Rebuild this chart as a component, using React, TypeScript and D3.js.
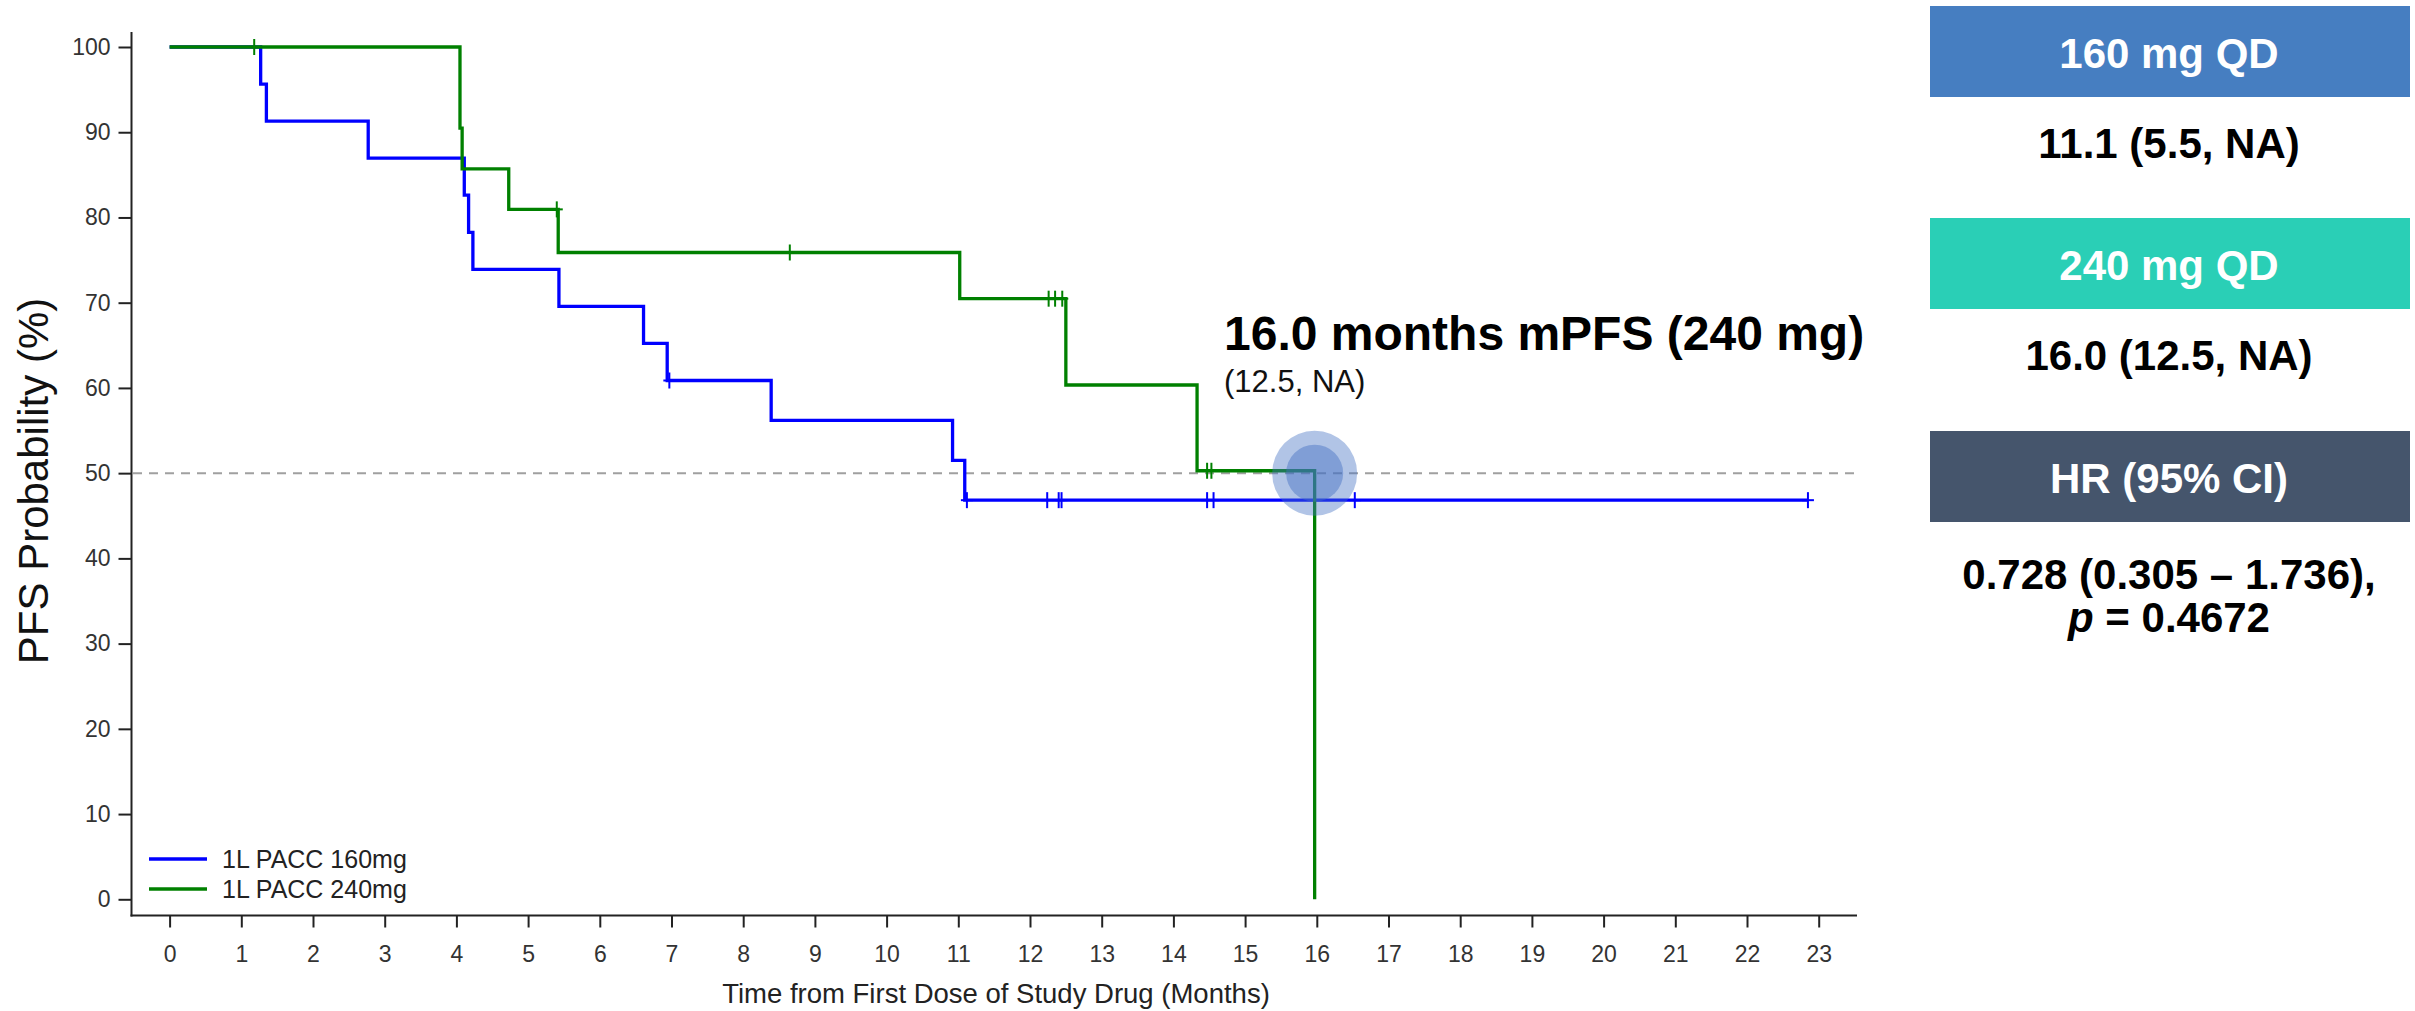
import React, { useRef, useEffect } from "react";
import * as d3 from "d3";

const monthTicks = d3.range(0, 24);
const pctTicks = d3.range(0, 101, 10);

// 1L PACC 160mg: step start times (months) and PFS (%)
const blueTimes = [0, 1.27, 1.35, 2.77, 4.11, 4.17, 4.23, 5.43, 6.61, 6.94, 8.39, 10.92, 11.09, 22.85];
const bluePfs = [100, 95.65, 91.3, 86.96, 82.61, 78.26, 73.91, 69.57, 65.22, 60.87, 56.19, 51.51, 46.83, 46.83];
const blueCensored = [6.97, 11.12, 12.24, 12.4, 12.44, 14.47, 14.56, 16.53, 22.85];

// 1L PACC 240mg
const greenTimes = [0, 4.05, 4.08, 4.73, 5.42, 11.02, 12.5, 14.33, 15.97];
const greenPfs = [100, 90.48, 85.71, 80.95, 75.89, 70.47, 60.34, 50.28, 0];
const greenCensored = [1.18, 5.4, 8.65, 12.26, 12.35, 12.45, 14.47, 14.53];

const medianMonths = 15.97;
const medianPfs = 50;

const legendLabels = ["1L PACC 160mg", "1L PACC 240mg"];
const panelHeaders = ["160 mg QD", "240 mg QD", "HR (95% CI)"];
const panelValues = ["11.1 (5.5, NA)", "16.0 (12.5, NA)"];
const hrText = "0.728 (0.305 \u2013 1.736),";
const pText = "0.4672";

const FONT = "'Liberation Sans', Arial, sans-serif";

export default function App() {
  const svgRef = useRef<SVGSVGElement>(null);

  useEffect(() => {
    const svg = d3.select(svgRef.current);
    svg.selectAll("*").remove();

    const x = d3.scaleLinear().domain([0, 23]).range([169.6, 1818.7]);
    const y = d3.scaleLinear().domain([0, 100]).range([899.3, 47]);

    const series = [
      { times: blueTimes, pfs: bluePfs, cens: blueCensored, color: "#0000ff" },
      { times: greenTimes, pfs: greenPfs, cens: greenCensored, color: "#008000" },
    ];

    // axes
    const yAxis = svg
      .append("g")
      .attr("transform", "translate(131.5,0)")
      .call(d3.axisLeft(y).tickValues(pctTicks).tickSize(13).tickPadding(8).tickSizeOuter(0));
    const xAxis = svg
      .append("g")
      .attr("transform", "translate(0,915.5)")
      .call(d3.axisBottom(x).tickValues(monthTicks).tickSize(12).tickPadding(18).tickSizeOuter(0));
    [yAxis, xAxis].forEach((g) => {
      g.select(".domain").remove();
      g.selectAll("line").attr("stroke", "#222").attr("stroke-width", 2);
      g.selectAll("text")
        .attr("fill", "#333")
        .style("font-family", FONT)
        .style("font-size", "23px");
    });
    svg.append("line").attr("x1", 131.5).attr("x2", 131.5).attr("y1", 32).attr("y2", 916.5)
      .attr("stroke", "#222").attr("stroke-width", 2);
    svg.append("line").attr("x1", 130.5).attr("x2", 1857).attr("y1", 915.5).attr("y2", 915.5)
      .attr("stroke", "#222").attr("stroke-width", 2);

    // axis titles
    svg.append("text")
      .attr("transform", "translate(48,481) rotate(-90)")
      .attr("text-anchor", "middle")
      .style("font-family", FONT)
      .style("font-size", "42px")
      .attr("fill", "#111")
      .text("PFS Probability (%)");
    svg.append("text")
      .attr("x", 996)
      .attr("y", 1003)
      .attr("text-anchor", "middle")
      .style("font-family", FONT)
      .style("font-size", "27.5px")
      .attr("fill", "#222")
      .text("Time from First Dose of Study Drug (Months)");

    // 50% reference
    svg.append("line")
      .attr("x1", 133).attr("x2", 1858)
      .attr("y1", y(50)).attr("y2", y(50))
      .attr("stroke", "#a0a0a0").attr("stroke-width", 2)
      .attr("stroke-dasharray", "9,7");

    const line = d3
      .line<[number, number]>()
      .curve(d3.curveStepAfter)
      .x((d) => x(d[0]))
      .y((d) => y(d[1]));

    series.forEach((s) => {
      const pts: [number, number][] = s.times.map((t, i) => [t, s.pfs[i]]);
      svg.append("path")
        .datum(pts)
        .attr("fill", "none")
        .attr("stroke", s.color)
        .attr("stroke-width", 3.3)
        .attr("d", line);

      const at = (t: number) => s.pfs[d3.bisectRight(s.times, t) - 1];
      const marks = svg.append("g").attr("stroke", s.color).attr("stroke-width", 2);
      s.cens.forEach((t) => {
        const cx = x(t);
        const cy = y(at(t));
        marks.append("line").attr("x1", cx).attr("x2", cx).attr("y1", cy - 8).attr("y2", cy + 8);
        marks.append("line").attr("x1", cx - 6).attr("x2", cx + 6).attr("y1", cy).attr("y2", cy);
      });
    });

    // median highlight
    svg.append("circle")
      .attr("cx", x(medianMonths)).attr("cy", y(medianPfs)).attr("r", 42.5)
      .attr("fill", "#4472c4").attr("fill-opacity", 0.42);
    svg.append("circle")
      .attr("cx", x(medianMonths)).attr("cy", y(medianPfs)).attr("r", 28.5)
      .attr("fill", "#4472c4").attr("fill-opacity", 0.45);

    svg.append("text")
      .attr("x", 1224).attr("y", 350)
      .style("font-family", FONT).style("font-size", "48px").style("font-weight", "bold")
      .attr("fill", "#000")
      .text("16.0 months mPFS (240 mg)");
    svg.append("text")
      .attr("x", 1224).attr("y", 392)
      .style("font-family", FONT).style("font-size", "31px")
      .attr("fill", "#111")
      .text("(12.5, NA)");

    // legend
    legendLabels.forEach((lab, i) => {
      const ly = 859 + i * 30;
      svg.append("line").attr("x1", 149).attr("x2", 207).attr("y1", ly).attr("y2", ly)
        .attr("stroke", series[i].color).attr("stroke-width", 3.5);
      svg.append("text").attr("x", 222).attr("y", ly + 9)
        .style("font-family", FONT).style("font-size", "25px").attr("fill", "#222")
        .text(lab);
    });

    // right panel
    const boxColors = ["#467ec1", "#2acfb6", "#45556c"];
    const boxTops = [6, 218, 431];
    const cx = 2169;
    panelHeaders.forEach((h, i) => {
      svg.append("rect").attr("x", 1930).attr("y", boxTops[i]).attr("width", 480).attr("height", 91)
        .attr("fill", boxColors[i]);
      svg.append("text").attr("x", cx).attr("y", boxTops[i] + 62).attr("text-anchor", "middle")
        .style("font-family", FONT).style("font-size", "42px").style("font-weight", "bold")
        .attr("fill", "#fff").text(h);
    });
    panelValues.forEach((v, i) => {
      svg.append("text").attr("x", cx).attr("y", boxTops[i] + 152).attr("text-anchor", "middle")
        .style("font-family", FONT).style("font-size", "42px").style("font-weight", "bold")
        .attr("fill", "#000").text(v);
    });
    svg.append("text").attr("x", cx).attr("y", 589).attr("text-anchor", "middle")
      .style("font-family", FONT).style("font-size", "42px").style("font-weight", "bold")
      .attr("fill", "#000").text(hrText);
    const pt = svg.append("text").attr("x", cx).attr("y", 632).attr("text-anchor", "middle")
      .style("font-family", FONT).style("font-size", "42px").style("font-weight", "bold")
      .attr("fill", "#000");
    pt.append("tspan").style("font-style", "italic").text("p");
    pt.append("tspan").text(" = " + pText);
  }, []);

  return (
    <svg
      ref={svgRef}
      width={2415}
      height={1011}
      style={{ position: "absolute", left: 0, top: 0, background: "#fff" }}
    />
  );
}
